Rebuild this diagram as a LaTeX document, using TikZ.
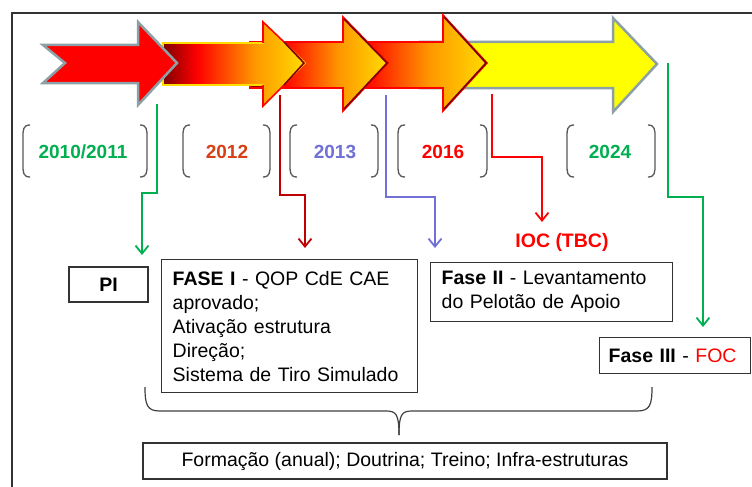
\documentclass[tikz,border=0pt]{standalone}
\usepackage{fontspec}
\setmainfont{Liberation Sans}
\usetikzlibrary{arrows.meta}
\definecolor{cgreen}{RGB}{0,176,80}
\definecolor{cdred}{RGB}{192,0,0}
\definecolor{cyrtwelve}{RGB}{214,64,20}
\definecolor{cblue}{RGB}{112,112,214}
\definecolor{cred}{RGB}{255,0,0}
\definecolor{cgray}{RGB}{140,160,165}
\definecolor{cframe}{RGB}{51,51,51}
\definecolor{gdark}{RGB}{128,0,0}
\definecolor{gorange}{RGB}{255,150,0}
\definecolor{ggold}{RGB}{255,220,0}
\definecolor{cyell}{RGB}{255,255,0}
\pgfdeclarehorizontalshading{arrowgrad}{100bp}{color(0bp)=(gdark); color(25bp)=(gdark); color(37bp)=(cred); color(57bp)=(gorange); color(75bp)=(ggold); color(100bp)=(ggold)}
\newcommand\yrpair[2]{%
  \draw[yrbr] (#1+7,125) .. controls (#1,125) and (#1,130) .. (#1,137) -- (#1,165) .. controls (#1,172) and (#1,177) .. (#1+7,177);
  \draw[yrbr] (#2-7,125) .. controls (#2,125) and (#2,130) .. (#2,137) -- (#2,165) .. controls (#2,172) and (#2,177) .. (#2-7,177);}
\begin{document}
\begin{tikzpicture}[x=1pt,y=-1pt,
  yrbr/.style={draw=black!65, line width=1.3},
  yr/.style={font=\fontsize{19}{23}\selectfont\bfseries, inner sep=0},
  conn/.style={line width=1.8, -{Straight Barb[length=8pt,width=13pt]}},
  box/.style={draw=cframe, line width=1.4, fill=white, font=\fontsize{19.5}{24}\selectfont},
  headedge/.style={line width=1.6, line join=miter}]
\useasboundingbox (0,0) rectangle (752,487);
\clip (0,0) rectangle (752,487);
\fill[white] (0,0) rectangle (752,487);
\draw[cframe, line width=1.5] (12,13) rectangle (790,520);

% arrow 5 (yellow)
\draw[fill=cyell, draw=cgray, line width=2.5, line join=miter]
  (420,42) -- (613,42) -- (613,18) -- (657,64) -- (613,112) -- (613,88) -- (420,88) -- cycle;
% arrow 4
\shadedraw[shading=arrowgrad, draw=cred, line width=1.6, line join=miter]
  (325,42) -- (443,42) -- (443,15) -- (487,63) -- (443,111) -- (443,88) -- (325,88) -- cycle;
\draw[headedge, gdark] (444,17) -- (486,63) -- (444,109);
% arrow 3
\shadedraw[shading=arrowgrad, draw=cred, line width=1.6, line join=miter]
  (250,42) -- (343,42) -- (343,17) -- (388,63) -- (343,111) -- (343,88) -- (250,88) -- cycle;
\draw[headedge, gdark] (344,19) -- (387,63) -- (344,109);
% arrow 2
\shadedraw[shading=arrowgrad, draw=ggold, line width=1.6, line join=miter]
  (163,43) -- (263,43) -- (263,22) -- (305,63) -- (263,106) -- (263,85) -- (163,85) -- cycle;
\draw[headedge, cred] (263,43) -- (263,22) -- (284,42);
\draw[headedge, cred] (263,85) -- (263,106) -- (284,85);
\draw[headedge, gdark] (284,42) -- (304,63) -- (284,85);
% arrow 1 (red)
\draw[fill=cred, draw=cgray, line width=2.5, line join=miter]
  (43,45) -- (138,45) -- (138,22) -- (177,63) -- (138,105) -- (138,83) -- (43,83) -- (65,63) -- cycle;

% year brackets and labels
\yrpair{23}{147}
\yrpair{183}{270}
\yrpair{290}{378}
\yrpair{398}{487}
\yrpair{567}{655}
\node[yr, text=cgreen] (y1) at (83,152) {2010/2011};
\node[yr, text=cyrtwelve] (y2) at (227,152) {2012};
\node[yr, text=cblue] (y3) at (335,152) {2013};
\node[yr, text=cred] (y4) at (443,152) {2016};
\node[yr, text=cgreen] (y5) at (610,152) {2024};

% boxes
\node[box, font=\fontsize{19.5}{24}\selectfont\bfseries, minimum width=79, minimum height=35] (pi) at (108.5,284.5) {PI};
\node[box, anchor=north west, inner xsep=11, text width=234, minimum height=133, align=left] (f1) at (161,259)
  {\textbf{FASE I} - QOP CdE CAE\\aprovado;\\Ativação estrutura\\Direção;\\Sistema de Tiro Simulado};
\node[box, anchor=north west, inner xsep=11, text width=220, minimum height=59, align=left] (f2) at (430,262)
  {\textbf{Fase II} - Levantamento\\do Pelotão de Apoio};
\node[box, anchor=north west, inner xsep=9, text width=133, minimum height=36, align=left] (f3) at (599,337)
  {\textbf{Fase III} - \textcolor{cred}{FOC}};
\node[box, minimum width=524, minimum height=36] (fb) at (405,461)
  {Formação (anual); Doutrina; Treino; Infra-estruturas};
\node[font=\fontsize{19.5}{24}\selectfont\bfseries, text=cred, inner sep=0] (ioc) at (562,242) {IOC (TBC)};

% connectors
\coordinate (g1s) at (157,104); \coordinate (g1e) at (142,255);
\coordinate (r1s) at (280,95);  \coordinate (r1e) at (305,248);
\coordinate (b1s) at (386,95);  \coordinate (b1e) at (435,248);
\coordinate (r2s) at (492,94);  \coordinate (r2e) at (542,222);
\coordinate (g2s) at (668,63);  \coordinate (g2e) at (703,327);
\draw[conn, cgreen] (g1s) -- (157,193) -- (142,193) -- (g1e);
\draw[conn, cdred] (r1s) -- (280,195) -- (305,195) -- (r1e);
\draw[conn, cblue] (b1s) -- (386,197) -- (435,197) -- (b1e);
\draw[conn, cred] (r2s) -- (492,157) -- (542,157) -- (r2e);
\draw[conn, cgreen] (g2s) -- (668,197) -- (703,197) -- (g2e);

% brace
\coordinate (bt) at (399,435);
\draw[draw=black!75, line width=1.2]
  (145,387) .. controls (145,405) and (147,411) .. (160,411) -- (386,411)
  .. controls (396,411) and (399,414) .. (bt);
\draw[draw=black!75, line width=1.2]
  (652,387) .. controls (652,405) and (650,411) .. (637,411) -- (412,411)
  .. controls (402,411) and (399,414) .. (bt);
\end{tikzpicture}
\end{document}
